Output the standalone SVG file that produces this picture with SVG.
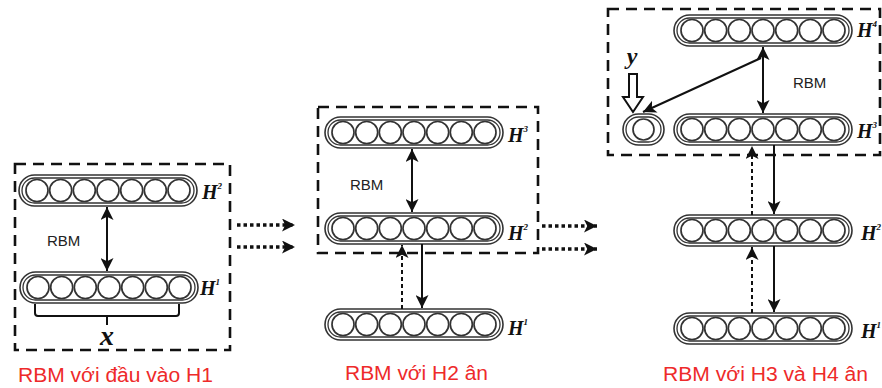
<svg xmlns="http://www.w3.org/2000/svg" xmlns:xlink="http://www.w3.org/1999/xlink" width="882" height="388" viewBox="0 0 882 388">
<style>
.box{fill:none;stroke:#111;stroke-width:2.6;stroke-dasharray:11,7}
.po{fill:#fff;stroke:#333;stroke-width:1.6}
.pi{fill:none;stroke:#333;stroke-width:1.3}
.c{fill:none;stroke:#333;stroke-width:1.7}
.ln{fill:none;stroke:#111;stroke-width:2}
.dt{fill:none;stroke:#111;stroke-width:2;stroke-dasharray:4,3}
.dr{fill:none;stroke:#111;stroke-width:3.5;stroke-dasharray:3.5,3}
.hl{font-family:"Liberation Serif",serif;font-style:italic;font-weight:bold;font-size:20px;fill:#111}
.sup{font-size:9px}
.rbm{font-family:"Liberation Sans",Arial,sans-serif;font-size:15px;fill:#222}
.cap{font-family:"Liberation Sans",Arial,sans-serif;font-size:20px;fill:#ee2a2a}
.var{font-family:"Liberation Serif",serif;font-style:italic;font-weight:bold;fill:#111}
</style>
<defs>
<marker id="ah" viewBox="0 0 12 12" refX="12" refY="6" markerWidth="13" markerHeight="13" orient="auto-start-reverse" markerUnits="userSpaceOnUse">
<path d="M0,0 L12,6 L0,12 L3,6 z" fill="#111"/>
</marker>
<g id="layer">
<rect class="po" x="0" y="0" width="178" height="31" rx="15.5"/>
<rect class="pi" x="3" y="3" width="172" height="25" rx="12.5"/>
<circle class="c" cx="18" cy="15.5" r="11"/>
<circle class="c" cx="41.7" cy="15.5" r="11"/>
<circle class="c" cx="65.3" cy="15.5" r="11"/>
<circle class="c" cx="89" cy="15.5" r="11"/>
<circle class="c" cx="112.7" cy="15.5" r="11"/>
<circle class="c" cx="136.3" cy="15.5" r="11"/>
<circle class="c" cx="160" cy="15.5" r="11"/>
</g>
</defs>
<rect width="882" height="388" fill="#fff"/>

<!-- dashed boxes -->
<rect class="box" x="15" y="164" width="215" height="186"/>
<rect class="box" x="318" y="107" width="220" height="146"/>
<rect class="box" x="608" y="9" width="272" height="146"/>

<!-- Panel 1 -->
<g id="p1-h2"><use xlink:href="#layer" x="19" y="175"/><text class="hl" x="202" y="199">H<tspan class="sup" dy="-10">2</tspan></text></g>
<g id="p1-h1"><use xlink:href="#layer" x="20" y="272"/><text class="hl" x="200" y="295">H<tspan class="sup" dy="-10">1</tspan></text></g>
<g id="p1-rbm"><text class="rbm" x="47" y="246">RBM</text></g>
<g id="p1-x">
<path class="ln" d="M35,304 V313 Q35,316 38,316 H176 Q179,316 179,313 V304 M107,316 V325"/>
<text class="var" x="107" y="345" font-size="28" text-anchor="middle">x</text>
</g>

<!-- Panel 2 -->
<g id="p2-h3"><use xlink:href="#layer" x="325" y="117"/><text class="hl" x="508" y="142">H<tspan class="sup" dy="-10">3</tspan></text></g>
<g id="p2-h2"><use xlink:href="#layer" x="325" y="213"/><text class="hl" x="508" y="240">H<tspan class="sup" dy="-10">2</tspan></text></g>
<g id="p2-h1"><use xlink:href="#layer" x="325" y="309"/><text class="hl" x="508" y="335">H<tspan class="sup" dy="-10">1</tspan></text></g>
<g id="p2-rbm"><text class="rbm" x="350" y="190">RBM</text></g>

<!-- Panel 3 -->
<g id="p3-h4"><use xlink:href="#layer" x="674" y="15"/><text class="hl" x="857" y="37">H<tspan class="sup" dy="-10">4</tspan></text></g>
<g id="p3-h3"><use xlink:href="#layer" x="674" y="114"/><text class="hl" x="857" y="138">H<tspan class="sup" dy="-10">3</tspan></text></g>
<g id="p3-h2"><use xlink:href="#layer" x="674" y="215"/><text class="hl" x="861" y="240">H<tspan class="sup" dy="-10">2</tspan></text></g>
<g id="p3-h1"><use xlink:href="#layer" x="674" y="313"/><text class="hl" x="861" y="338">H<tspan class="sup" dy="-10">1</tspan></text></g>
<g id="p3-y">
<rect class="po" x="623" y="114" width="41" height="31" rx="15.5"/>
<rect class="pi" x="626" y="117" width="35" height="25" rx="12.5"/>
<circle class="c" cx="643.5" cy="129.5" r="10.5"/>
<text class="var" x="632" y="64" font-size="24" text-anchor="middle">y</text>
<polygon points="629,74 637,74 637,97 643,97 633,112 623,97 629,97" fill="#fff" stroke="#111" stroke-width="2"/>
</g>
<g id="p3-rbm"><text class="rbm" x="793" y="88">RBM</text></g>

<!-- connectors -->
<g id="connectors">
<line class="ln" x1="107" y1="207" x2="107" y2="271" marker-start="url(#ah)" marker-end="url(#ah)"/>
<line class="dr" x1="237" y1="225" x2="295" y2="225" marker-end="url(#ah)"/>
<line class="dr" x1="237" y1="247" x2="295" y2="247" marker-end="url(#ah)"/>

<line class="ln" x1="412" y1="149" x2="412" y2="212" marker-start="url(#ah)" marker-end="url(#ah)"/>
<line class="dt" x1="402" y1="309" x2="402" y2="245" marker-end="url(#ah)"/>
<line class="ln" x1="422" y1="244" x2="422" y2="308" marker-end="url(#ah)"/>
<line class="dr" x1="542" y1="226" x2="597" y2="226" marker-end="url(#ah)"/>
<line class="dr" x1="542" y1="249" x2="597" y2="249" marker-end="url(#ah)"/>

<line class="ln" x1="763" y1="47" x2="763" y2="113" marker-start="url(#ah)" marker-end="url(#ah)"/>
<line class="ln" x1="761" y1="58" x2="643" y2="112" marker-end="url(#ah)"/>
<line class="dt" x1="752" y1="215" x2="752" y2="146" marker-end="url(#ah)"/>
<line class="ln" x1="774" y1="145" x2="774" y2="214" marker-end="url(#ah)"/>
<line class="dt" x1="752" y1="313" x2="752" y2="247" marker-end="url(#ah)"/>
<line class="ln" x1="774" y1="246" x2="774" y2="312" marker-end="url(#ah)"/>
</g>

<!-- captions -->
<text class="cap" x="18" y="382" textLength="195" lengthAdjust="spacingAndGlyphs">RBM với đầu vào H1</text>
<text class="cap" x="345" y="380" textLength="143" lengthAdjust="spacingAndGlyphs">RBM với H2 ân</text>
<text class="cap" x="663" y="381" textLength="205" lengthAdjust="spacingAndGlyphs">RBM với H3 và H4 ân</text>
</svg>
